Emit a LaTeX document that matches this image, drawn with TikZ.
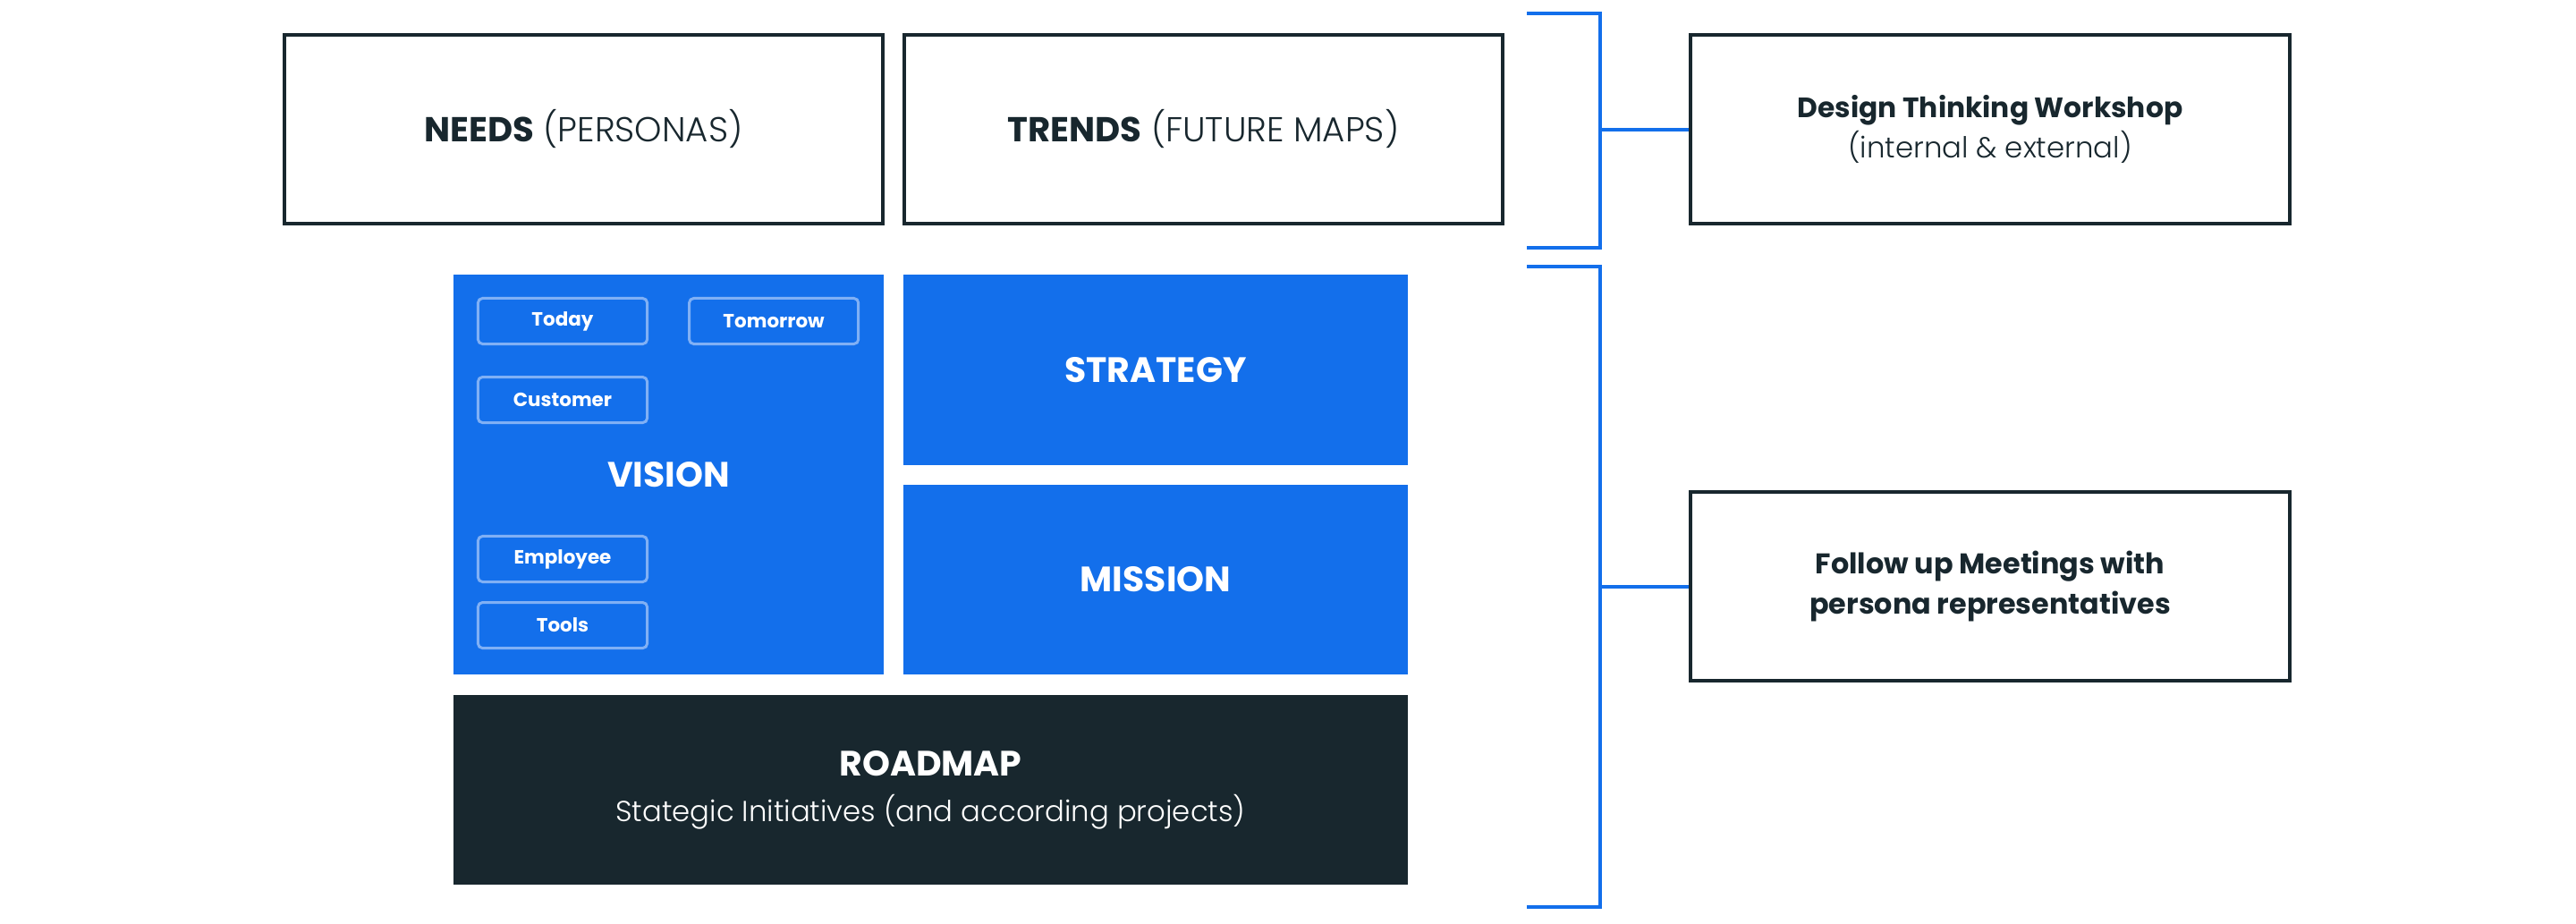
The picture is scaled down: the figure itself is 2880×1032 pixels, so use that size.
\documentclass[tikz,border=0pt]{standalone}
\usepackage{fontspec}
\setmainfont{Poppins}
\newfontfamily\lightfont{Poppins Light}
\usetikzlibrary{positioning}
\definecolor{brandblue}{RGB}{19,111,235}
\definecolor{darkslate}{RGB}{24,39,46}
\definecolor{paleblue}{RGB}{128,176,245}

\begin{document}
\begin{tikzpicture}[
  x=0.01cm,y=0.01cm,
  outbox/.style={draw=darkslate,line width=0.04cm,fill=white,text=darkslate,
                 minimum width=6.69cm,minimum height=2.11cm,
                 align=center,inner sep=0pt},
  bluebox/.style={fill=brandblue,text=white,inner sep=0pt,
                  font=\fontsize{11.2}{13}\selectfont\bfseries},
  tag/.style={draw=paleblue,line width=0.03cm,rounded corners=0.05cm,
              minimum width=1.89cm,minimum height=0.51cm,text=white,
              inner sep=0pt,font=\fontsize{6.1}{7}\selectfont\bfseries},
  bracket/.style={draw=brandblue,line width=0.04cm},
  node distance=0.34cm and 0.44cm
]
\useasboundingbox (0,0) rectangle (2880,1032);

% top row
\node[outbox,font=\fontsize{11}{13}\selectfont](needs) at (652.5,887.5)
  {\textbf{NEEDS} {\lightfont(PERSONAS)}};
\node[outbox,font=\fontsize{11}{13}\selectfont](trends) at (1345.5,887.5)
  {\textbf{TRENDS} {\lightfont(FUTURE MAPS)}};

% blue blocks
\node[bluebox,minimum width=4.81cm,minimum height=4.47cm](vision) at (747.5,501.5){VISION};
\node[bluebox,minimum width=5.64cm,minimum height=2.13cm](strategy) at (1292,618.5){STRATEGY};
\node[bluebox,minimum width=5.64cm,minimum height=2.12cm](mission) at (1292,384){MISSION};

\node[tag](today) at (629,673){Today};
\node[tag,right=of today](tomorrow){Tomorrow};
\node[tag,below=of today](customer){Customer};
\node[tag](employee) at (629,407){Employee};
\node[tag,below=0.20cm of employee](tools){Tools};

% roadmap
\node[fill=darkslate,text=white,minimum width=10.67cm,minimum height=2.12cm,
      inner sep=0pt,align=center,font=\fontsize{9.2}{14.5}\selectfont](roadmap) at (1040.5,149)
  {{\fontsize{11.2}{14.5}\selectfont\bfseries ROADMAP}\\{\lightfont Stategic Initiatives (and according projects)}};

% right side
\node[outbox,font=\fontsize{8.9}{12.8}\selectfont](dtw) at (2225,887.5)
  {\textbf{Design Thinking Workshop}\\{\lightfont\fontsize{9.2}{12.8}\selectfont(internal \& external)}};
\node[outbox,font=\fontsize{9.05}{12.8}\selectfont\bfseries](follow) at (2225,376.5)
  {Follow up Meetings with\\persona representatives};

% brackets
\coordinate (ta) at (1707,1017);
\coordinate (tb) at (1789,1017);
\coordinate (tc) at (1789,755);
\coordinate (td) at (1707,755);
\coordinate (tm) at (1789,887.5);
\draw[bracket](ta)--(tb)--(tc)--(td);
\draw[bracket](tm)--(dtw.west);

\coordinate (ba) at (1707,734);
\coordinate (bb) at (1789,734);
\coordinate (bc) at (1789,18);
\coordinate (bd) at (1707,18);
\coordinate (bm) at (1789,376.5);
\draw[bracket](ba)--(bb)--(bc)--(bd);
\draw[bracket](bm)--(follow.west);
\end{tikzpicture}
\end{document}
